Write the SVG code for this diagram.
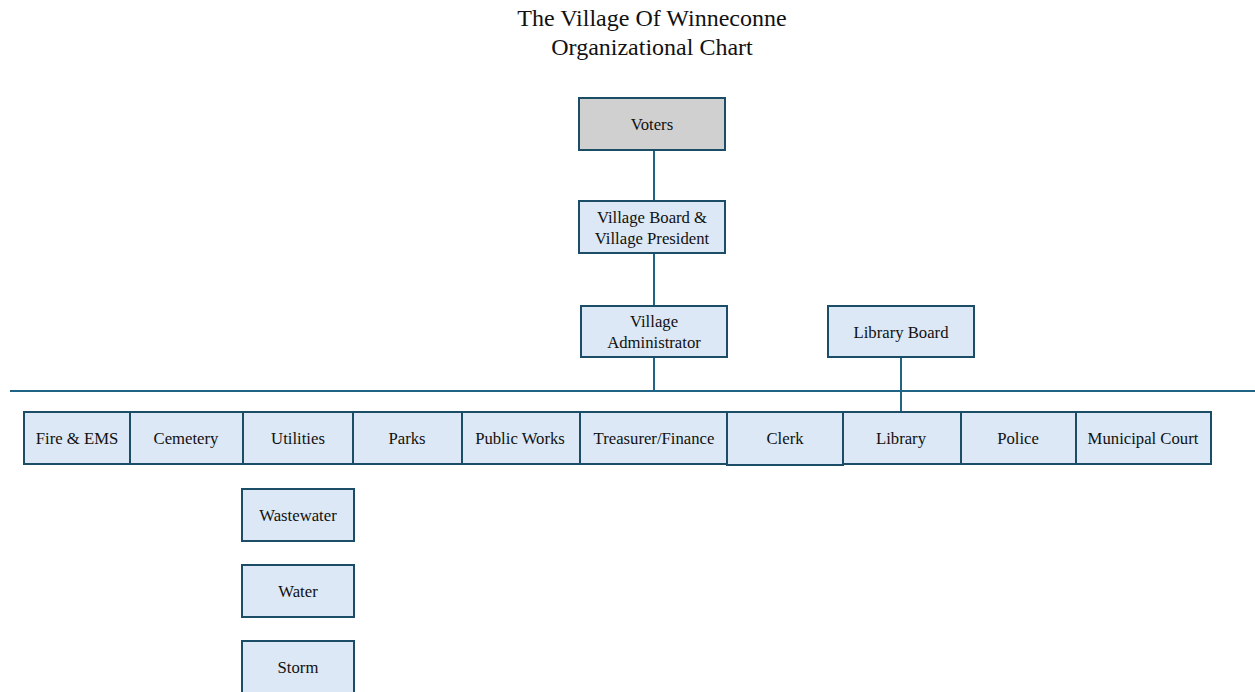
<svg xmlns="http://www.w3.org/2000/svg" width="1255" height="692" viewBox="0 0 1255 692">
<style>
.box{fill:#dce8f5;stroke:#1b4d66;stroke-width:2}
.grey{fill:#d0d0d0}
.t{font-family:"Liberation Serif","Times New Roman",serif;font-size:16.7px;fill:#111;text-anchor:middle}
.title{font-family:"Liberation Serif","Times New Roman",serif;font-size:24px;fill:#111;text-anchor:middle}
.c{stroke:#1f6484;stroke-width:2;fill:none}
</style>
<rect width="1255" height="692" fill="#fff"/>
<text class="title" x="652" y="26">The Village Of Winneconne</text>
<text class="title" x="652" y="55">Organizational Chart</text>
<g id="connectors">
<line class="c" x1="654" y1="150" x2="654" y2="201"/>
<line class="c" x1="654" y1="253" x2="654" y2="306"/>
<line class="c" x1="654" y1="357" x2="654" y2="391"/>
<line class="c" x1="901" y1="357" x2="901" y2="412"/>
<line class="c" x1="10" y1="391" x2="1255" y2="391"/>
</g>
<g id="voters"><rect class="box grey" x="579" y="98" width="146" height="52"/><text class="t" x="652" y="130">Voters</text></g>
<g id="board"><rect class="box" x="579" y="201" width="146" height="52"/><text class="t" x="652" y="223">Village Board &amp;</text><text class="t" x="652" y="244">Village President</text></g>
<g id="admin"><rect class="box" x="581" y="306" width="146" height="51"/><text class="t" x="654" y="327">Village</text><text class="t" x="654" y="348">Administrator</text></g>
<g id="libboard"><rect class="box" x="828" y="306" width="146" height="51"/><text class="t" x="901" y="338">Library Board</text></g>
<g id="fire"><rect class="box" x="24" y="412" width="106" height="52"/><text class="t" x="77" y="444">Fire &amp; EMS</text></g>
<g id="cemetery"><rect class="box" x="130" y="412" width="113" height="52"/><text class="t" x="186" y="444">Cemetery</text></g>
<g id="utilities"><rect class="box" x="243" y="412" width="110" height="52"/><text class="t" x="298" y="444">Utilities</text></g>
<g id="parks"><rect class="box" x="353" y="412" width="109" height="52"/><text class="t" x="407" y="444">Parks</text></g>
<g id="publicworks"><rect class="box" x="462" y="412" width="118" height="52"/><text class="t" x="520" y="444">Public Works</text></g>
<g id="treasurer"><rect class="box" x="580" y="412" width="147" height="52"/><text class="t" x="654" y="444">Treasurer/Finance</text></g>
<g id="clerk"><rect class="box" x="727" y="412" width="116" height="53"/><text class="t" x="785" y="444">Clerk</text></g>
<g id="library"><rect class="box" x="843" y="412" width="118" height="52"/><text class="t" x="901" y="444">Library</text></g>
<g id="police"><rect class="box" x="961" y="412" width="115" height="52"/><text class="t" x="1018" y="444">Police</text></g>
<g id="court"><rect class="box" x="1076" y="412" width="135" height="52"/><text class="t" x="1143" y="444">Municipal Court</text></g>
<g id="wastewater"><rect class="box" x="242" y="489" width="112" height="52"/><text class="t" x="298" y="521">Wastewater</text></g>
<g id="water"><rect class="box" x="242" y="565" width="112" height="52"/><text class="t" x="298" y="597">Water</text></g>
<g id="storm"><rect class="box" x="242" y="641" width="112" height="60"/><text class="t" x="298" y="673">Storm</text></g>
</svg>
